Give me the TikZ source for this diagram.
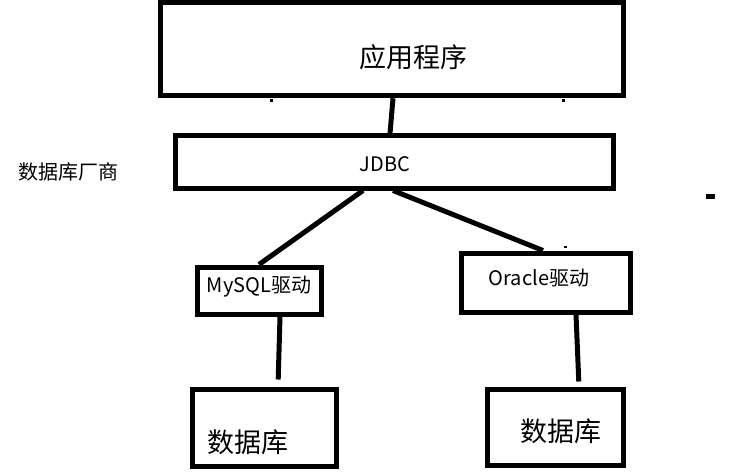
\documentclass[tikz,border=0pt]{standalone}
\usepackage{fontspec}
\setmainfont{Noto Sans CJK SC}

\begin{document}
\begin{tikzpicture}[x=1pt, y=-1pt,
  box/.style = {draw, line width=5pt, inner sep=0pt},
  big/.style = {font=\fontsize{27}{30}\selectfont},
  small/.style = {font=\fontsize{20}{23}\selectfont},
  link/.style = {line width=5pt},
  speck/.style = {fill=black, inner sep=0pt}]
\useasboundingbox (0,0) rectangle (731,476);
\node[box, minimum width=463pt, minimum height=93.5pt] (app) at (391.5,49) {};
\node[box, minimum width=438pt, minimum height=52pt] (jdbc) at (394,162) {};
\node[box, minimum width=124pt, minimum height=47pt] (mysql) at (259,290.5) {};
\node[box, minimum width=169pt, minimum height=59pt] (oracle) at (545.5,282.5) {};
\node[box, minimum width=144pt, minimum height=77pt] (db1) at (264,427.5) {};
\node[box, minimum width=136pt, minimum height=76pt] (db2) at (555,427) {};
\node[big] (apptext) at (413,57) {应用程序};
\node[small] (jdbctext) at (385,164) {JDBC};
\node[small] (mysqltext) at (259,287) {MySQL驱动};
\node[small] (oracletext) at (539,278) {Oracle驱动};
\node[big] (db1text) at (248,442) {数据库};
\node[big] (db2text) at (561,431) {数据库};
\node[small] (vendor) at (68,172) {数据库厂商};
\node[speck, minimum width=3pt, minimum height=3pt] (s1) at (271,101) {};
\node[speck, minimum width=3pt, minimum height=3pt] (s2) at (563,101) {};
\node[speck, minimum width=3pt, minimum height=2pt] (s3) at (565,247) {};
\node[speck, minimum width=9pt, minimum height=5pt] (s4) at (710.5,196) {};
\draw[link] ([xshift=1.5pt]app.south) -- ([xshift=-4pt]jdbc.north);
\draw[link] ([xshift=-31pt]jdbc.south) -- (mysql.north);
\draw[link] ([xshift=-1pt]jdbc.south) -- ([xshift=-2.5pt]oracle.north);
\draw[link, shorten >=7pt] ([xshift=21pt]mysql.south) -- ([xshift=14pt]db1.north);
\draw[link, shorten >=5pt] ([xshift=30.5pt]oracle.south) -- ([xshift=24pt]db2.north);
\end{tikzpicture}
\end{document}
